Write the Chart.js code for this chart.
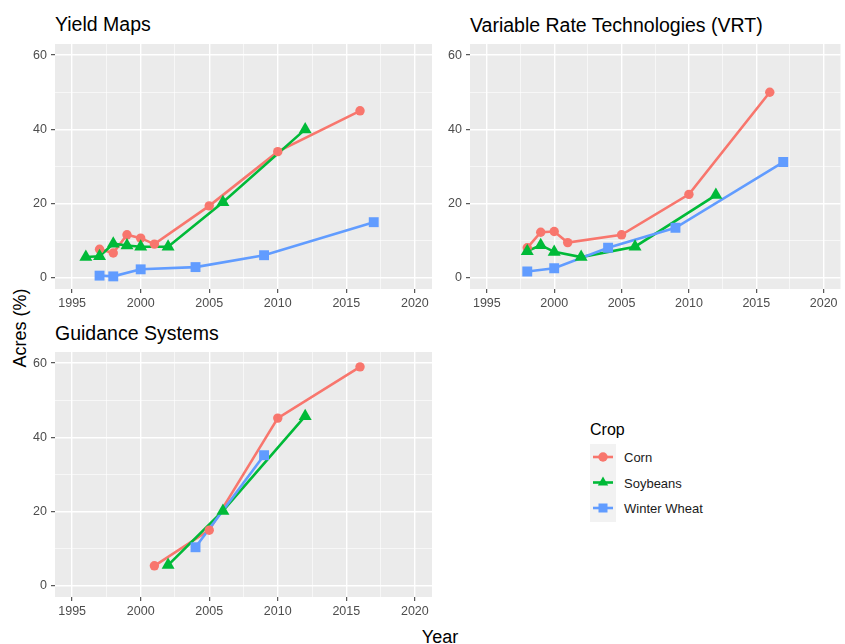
<!DOCTYPE html>
<html>
<head>
<meta charset="utf-8">
<script src="https://cdn.jsdelivr.net/npm/chart.js@4.4.1/dist/chart.umd.min.js"></script>
<style>
  html, body { margin: 0; padding: 0; background: #fff; overflow: hidden; }
  body { width: 845px; height: 644px; position: relative; font-family: 'Liberation Sans', Arial, sans-serif; }
  canvas { position: absolute; }
  .ttl { position: absolute; font-size: 19.5px; line-height: 1; color: #000; white-space: nowrap; }
  .lbl { position: absolute; font-size: 13px; line-height: 1; color: #1a1a1a; white-space: nowrap; }
</style>
</head>
<body>
<div class="ttl" style="left:55px; top:15px;">Yield Maps</div>
<div class="ttl" style="left:470px; top:16px;">Variable Rate Technologies (VRT)</div>
<div class="ttl" style="left:55px; top:324px;">Guidance Systems</div>

<div style="position:absolute; left:20px; top:328px; transform:translate(-50%,-50%) rotate(-90deg); font-size:18px; line-height:1; white-space:nowrap;">Acres (%)</div>
<div style="position:absolute; left:440px; top:628px; transform:translateX(-50%); font-size:18px; line-height:1; white-space:nowrap;">Year</div>

<canvas id="c1" width="440" height="289" style="left:0px; top:30px;"></canvas>
<canvas id="c2" width="428" height="289" style="left:420px; top:30px;"></canvas>
<canvas id="c3" width="440" height="289" style="left:0px; top:338px;"></canvas>

<div style="position:absolute; left:590px; top:422px; font-size:16px; line-height:1;">Crop</div>
<svg id="keys" width="26" height="78" style="position:absolute; left:590px; top:444px;"></svg>
<div class="lbl" style="left:624px; top:451px;">Corn</div>
<div class="lbl" style="left:624px; top:477px;">Soybeans</div>
<div class="lbl" style="left:624px; top:502px;">Winter Wheat</div>

<script>
// axis ticks
const xMajor = [1995, 2000, 2005, 2010, 2015, 2020];
const xMinor = [1997.5, 2002.5, 2007.5, 2012.5, 2017.5];
const yMajor = [0, 20, 40, 60];
const yMinor = [10, 30, 50];

const crops = ['Corn', 'Soybeans', 'Winter Wheat'];
const cropColors = ['#F8766D', '#00BA38', '#619CFF'];
const cropShapes = ['circle', 'triangle', 'rect'];

// Yield Maps
const yieldCornYear = [1997, 1998, 1999, 2000, 2001, 2005, 2010, 2016];
const yieldCornPct = [7.7, 6.7, 11.6, 10.7, 9.1, 19.4, 34, 45];
const yieldSoyYear = [1996, 1997, 1998, 1999, 2000, 2002, 2006, 2012];
const yieldSoyPct = [5.6, 5.8, 9.2, 8.7, 8.4, 8.4, 20.4, 40];
const yieldWheatYear = [1997, 1998, 2000, 2004, 2009, 2017];
const yieldWheatPct = [0.6, 0.4, 2.3, 2.9, 6.1, 15];

// Variable Rate Technologies
const vrtCornYear = [1998, 1999, 2000, 2001, 2005, 2010, 2016];
const vrtCornPct = [8.1, 12.3, 12.5, 9.5, 11.6, 22.5, 50];
const vrtSoyYear = [1998, 1999, 2000, 2002, 2006, 2012];
const vrtSoyPct = [7.2, 8.8, 7, 5.6, 8.4, 22.3];
const vrtWheatYear = [1998, 2000, 2004, 2009, 2017];
const vrtWheatPct = [1.7, 2.6, 8.1, 13.5, 31.2];

// Guidance Systems
const guidCornYear = [2001, 2005, 2010, 2016];
const guidCornPct = [5.4, 15, 45.2, 59];
const guidSoyYear = [2002, 2006, 2012];
const guidSoyPct = [5.6, 20.2, 45.7];
const guidWheatYear = [2004, 2009];
const guidWheatPct = [10.4, 35.2];

Chart.defaults.font.family = "'Liberation Sans', Arial, sans-serif";

function pts(xs, ys) {
  return xs.map((x, i) => ({ x: x, y: ys[i] }));
}

const panelBg = {
  id: 'panelBg',
  beforeDraw(chart) {
    const a = chart.chartArea;
    const c = chart.ctx;
    c.save();
    c.fillStyle = '#EBEBEB';
    c.fillRect(a.left, a.top, a.right - a.left, a.bottom - a.top);
    c.restore();
  }
};

function gridOpts(major) {
  return {
    color: ctx => major.includes(ctx.tick && ctx.tick.value) ? '#FFFFFF' : 'rgba(255,255,255,0.85)',
    lineWidth: ctx => major.includes(ctx.tick && ctx.tick.value) ? 1.4 : 0.7,
    drawTicks: true,
    tickLength: 4,
    tickWidth: 1,
    tickColor: ctx => major.includes(ctx.tick && ctx.tick.value) ? '#333333' : 'rgba(0,0,0,0)'
  };
}

function makePanel(id, series, yWidth, padRight) {
  const datasets = [];
  series.forEach((s, i) => {
    datasets.push({
      data: pts(s[0], s[1]),
      showLine: true,
      borderColor: cropColors[i],
      borderWidth: 2.6,
      pointRadius: 0,
      order: 10 - i
    });
  });
  series.forEach((s, i) => {
    datasets.push({
      data: pts(s[0], s[1]),
      showLine: false,
      pointStyle: cropShapes[i],
      pointRadius: i === 0 ? 4.7 : (i === 1 ? 7.5 : 7),
      pointBackgroundColor: cropColors[i],
      pointBorderWidth: 0,
      order: 3 - i
    });
  });

  new Chart(document.getElementById(id), {
    type: 'scatter',
    data: { datasets: datasets },
    plugins: [panelBg],
    options: {
      responsive: false,
      animation: false,
      events: [],
      layout: { padding: { top: 14, right: padRight, left: 0, bottom: 0 } },
      plugins: { legend: { display: false }, tooltip: { enabled: false } },
      scales: {
        x: {
          type: 'linear',
          min: 1993.75,
          max: 2021.25,
          afterBuildTicks: sc => { sc.ticks = xMajor.concat(xMinor).sort((a, b) => a - b).map(v => ({ value: v })); },
          afterFit: sc => { sc.height = 30; },
          ticks: {
            autoSkip: false,
            maxRotation: 0,
            padding: 3,
            color: '#4D4D4D',
            font: { size: 12.5 },
            callback: v => xMajor.includes(v) ? String(v) : ''
          },
          grid: gridOpts(xMajor),
          border: { display: false }
        },
        y: {
          type: 'linear',
          min: -3,
          max: 63,
          afterBuildTicks: sc => { sc.ticks = yMajor.concat(yMinor).sort((a, b) => a - b).map(v => ({ value: v })); },
          afterFit: sc => { sc.width = yWidth; },
          ticks: {
            autoSkip: false,
            padding: 4,
            color: '#4D4D4D',
            font: { size: 12.5 },
            callback: v => yMajor.includes(v) ? String(v) : ''
          },
          grid: gridOpts(yMajor),
          border: { display: false }
        }
      }
    }
  });
}

makePanel('c1', [[yieldCornYear, yieldCornPct], [yieldSoyYear, yieldSoyPct], [yieldWheatYear, yieldWheatPct]], 55, 8);
makePanel('c2', [[vrtCornYear, vrtCornPct], [vrtSoyYear, vrtSoyPct], [vrtWheatYear, vrtWheatPct]], 50, 0);
makePanel('c3', [[guidCornYear, guidCornPct], [guidSoyYear, guidSoyPct], [guidWheatYear, guidWheatPct]], 55, 8);

// legend keys
const svg = document.getElementById('keys');
let k = '<rect x="0" y="0" width="26" height="78" fill="#F2F2F2"/>';
crops.forEach((c, i) => {
  const cy = 13 + i * 25.5;
  k += '<line x1="3" x2="23" y1="' + cy + '" y2="' + cy + '" stroke="' + cropColors[i] + '" stroke-width="2.6"/>';
  if (i === 0) k += '<circle cx="13" cy="' + cy + '" r="4.7" fill="' + cropColors[i] + '"/>';
  if (i === 1) k += '<polygon points="13,' + (cy - 6) + ' 18.2,' + (cy + 3) + ' 7.8,' + (cy + 3) + '" fill="' + cropColors[i] + '"/>';
  if (i === 2) k += '<rect x="8.5" y="' + (cy - 4.5) + '" width="9" height="9" fill="' + cropColors[i] + '"/>';
});
svg.innerHTML = k;
</script>
</body>
</html>
